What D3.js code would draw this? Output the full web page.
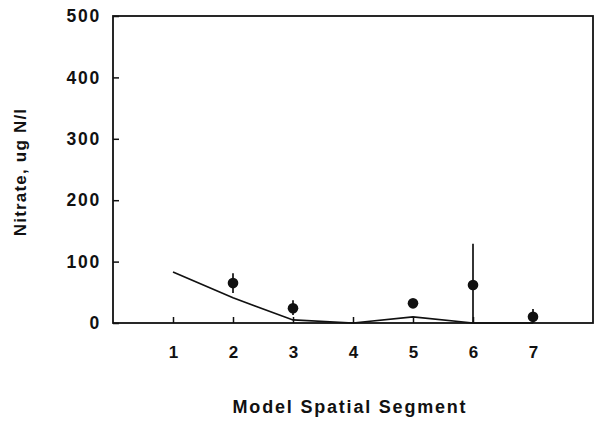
<!DOCTYPE html>
<html>
<head>
<meta charset="utf-8">
<script src="https://cdn.jsdelivr.net/npm/d3@7"></script>
<style>
  html, body { margin: 0; padding: 0; background: #fff; }
  text { font-family: "Liberation Sans", Arial, Helvetica, sans-serif; font-weight: bold; fill: #111; }
</style>
</head>
<body>
<svg id="chart" width="595" height="424"></svg>
<script>
// Segment numbers along the river model
const segments = [1, 2, 3, 4, 5, 6, 7];
// Simulated nitrate (line)
const modelNitrate = [83, 41, 5, 0, 10, 0, 0];
// Observed nitrate: mean and range
const obsSegments = [2, 3, 5, 6, 7];
const obsMean = [65, 24, 32, 62, 10];
const obsLow = [49, 13, 32, 0, 0];
const obsHigh = [81, 37, 32, 129, 23];
const yTicks = [0, 100, 200, 300, 400, 500];

const svg = d3.select("#chart");
const x = d3.scaleLinear().domain([0, 8]).range([113, 593]);
const y = d3.scaleLinear().domain([0, 500]).range([323, 16]);

const ink = "#111";

// Plot frame
svg.append("rect")
  .attr("x", x(0)).attr("y", y(500))
  .attr("width", x(8) - x(0)).attr("height", y(0) - y(500))
  .attr("fill", "none").attr("stroke", ink).attr("stroke-width", 1.8);

// Y axis with inward ticks
const yAxis = d3.axisLeft(y).tickValues(yTicks).tickSizeInner(-6).tickSizeOuter(0).tickPadding(12);
const gy = svg.append("g").attr("transform", `translate(${x(0)},0)`).call(yAxis);
gy.select(".domain").remove();
gy.selectAll(".tick line").attr("stroke", ink).attr("stroke-width", 1.5);
gy.selectAll(".tick text").style("font-size", "17.5px").style("letter-spacing", "1.8px").attr("fill", ink);

// X axis with inward ticks
const xAxis = d3.axisBottom(x).tickValues(segments).tickFormat(d3.format("d")).tickSizeInner(-6).tickSizeOuter(0).tickPadding(23);
const gx = svg.append("g").attr("transform", `translate(0,${y(0)})`).call(xAxis);
gx.select(".domain").remove();
gx.selectAll(".tick line").attr("stroke", ink).attr("stroke-width", 1.5);
gx.selectAll(".tick text").style("font-size", "17px").attr("fill", ink);

// Model line
const line = d3.line().x((d, i) => x(segments[i])).y(d => y(d));
svg.append("path")
  .datum(modelNitrate)
  .attr("d", line)
  .attr("fill", "none").attr("stroke", ink).attr("stroke-width", 1.7);

// Observed ranges
const obs = obsSegments.map((s, i) => ({ s, m: obsMean[i], lo: obsLow[i], hi: obsHigh[i] }));
svg.selectAll("line.err").data(obs).enter().append("line")
  .attr("class", "err")
  .attr("x1", d => x(d.s)).attr("x2", d => x(d.s))
  .attr("y1", d => y(d.lo)).attr("y2", d => y(d.hi))
  .attr("stroke", ink).attr("stroke-width", 1.7);

// Observed means
svg.selectAll("circle.obs").data(obs).enter().append("circle")
  .attr("class", "obs")
  .attr("cx", d => x(d.s)).attr("cy", d => y(d.m))
  .attr("r", 5.3).attr("fill", ink);

// Axis titles
svg.append("text")
  .attr("x", 350).attr("y", 413)
  .attr("text-anchor", "middle")
  .style("font-size", "18px")
  .style("letter-spacing", "1.8px")
  .text("Model Spatial Segment");

svg.append("text")
  .attr("transform", `translate(26,172) rotate(-90)`)
  .attr("text-anchor", "middle")
  .style("font-size", "17px")
  .style("letter-spacing", "1.2px")
  .text("Nitrate, ug N/l");
</script>
</body>
</html>
